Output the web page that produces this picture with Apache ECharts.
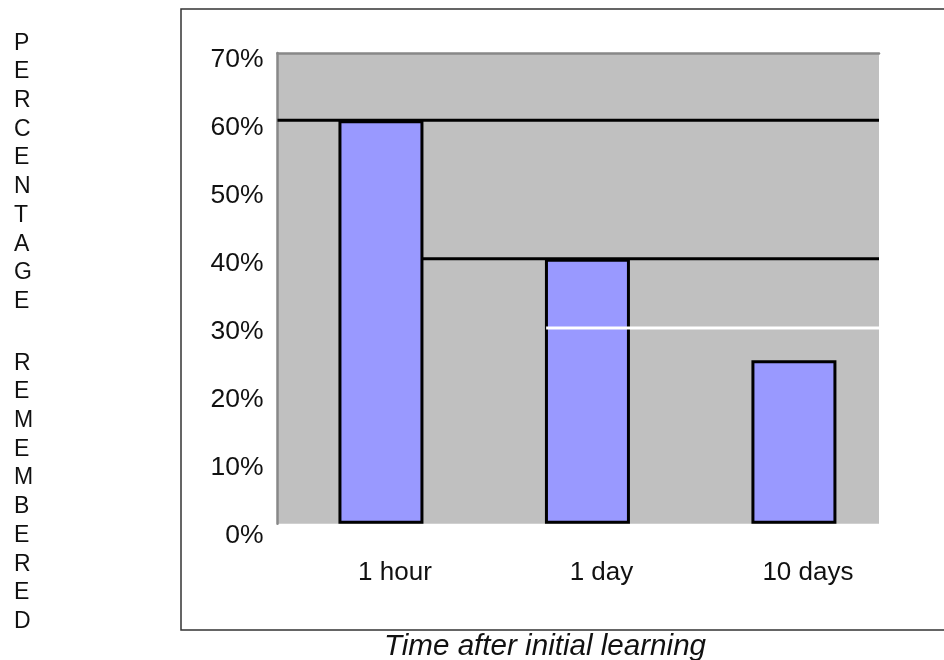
<!DOCTYPE html>
<html>
<head>
<meta charset="utf-8">
<script src="https://cdn.jsdelivr.net/npm/echarts@6/dist/echarts.min.js"></script>
<style>
html,body{margin:0;padding:0;background:#fff;}
#chart{width:944px;height:660px;}
</style>
</head>
<body>
<div id="chart"></div>
<script>
// ---- data ----
const categories = ['1 hour', '1 day', '10 days'];
const remembered = [60, 39.4, 24.3];
// reference levels drawn across the plot: level and start position (category units)
const refLevels = [60, 39.4, 29.1];
const refStarts = [-0.501, 0.2, 0.8];
const refColors = ['#000000', '#000000', '#ffffff'];
const yTicks = [0, 10, 20, 30, 40, 50, 60, 70];
const xMin = -0.501, xMax = 2.412;
const yTitle1 = 'PERCENTAGE';
const yTitle2 = 'REMEMBERED';
const xTitle = 'Time after initial learning';

const chart = echarts.init(document.getElementById('chart'), null, {renderer: 'canvas'});

const barData = remembered.map((v, i) => [i, v]);
const refSeries = refLevels.map((lv, i) => ({
  type: 'line',
  data: [[refStarts[i], lv], [xMax, lv]],
  symbol: 'none',
  silent: true,
  z: 5,
  lineStyle: {color: refColors[i], width: 3},
  clip: false
}));

const font = 'Liberation Sans, Arial, sans-serif';
const yMin = yTicks[0], yMax = yTicks[yTicks.length - 1];

chart.setOption({
  animation: false,
  backgroundColor: '#ffffff',
  grid: [{
    left: 277.5, right: 65, top: 53, bottom: 136.3,
    show: true, backgroundColor: '#C0C0C0', borderWidth: 0
  }, {
    // label-only grid: tick labels in the original sit on a slightly wider scale
    left: 277.5, right: 65, top: 59.5, bottom: 124, show: false
  }],
  xAxis: [{
    type: 'value', min: xMin, max: xMax, gridIndex: 0,
    axisLine: {show: false}, axisTick: {show: false}, splitLine: {show: false},
    axisLabel: {
      customValues: [0, 1, 2],
      formatter: v => categories[Math.round(v)],
      fontFamily: font, fontSize: 26, color: '#111', margin: 36,
      padding: [0, 0, 0, 28]
    }
  }, {
    type: 'value', position: 'top', min: xMin, max: xMax, gridIndex: 0,
    axisLine: {show: true, onZero: false, lineStyle: {color: '#888888', width: 2.5}},
    axisTick: {show: false}, splitLine: {show: false}, axisLabel: {show: false}
  }, {
    type: 'value', min: xMin, max: xMax, gridIndex: 1, show: false
  }],
  yAxis: [{
    type: 'value', min: yMin, max: yMax, interval: 10, gridIndex: 0,
    axisLine: {show: true, onZero: false, lineStyle: {color: '#888888', width: 2.5}},
    axisTick: {show: false}, splitLine: {show: false},
    axisLabel: {show: false}
  }, {
    type: 'value', min: yMin, max: yMax, interval: 10, gridIndex: 1,
    axisLine: {show: false}, axisTick: {show: false}, splitLine: {show: false},
    axisLabel: {
      formatter: '{value}%', fontFamily: font, fontSize: 26.5, color: '#111',
      margin: 14
    }
  }],
  series: [{
    type: 'bar',
    data: barData,
    barWidth: 85,
    z: 3,
    itemStyle: {color: '#9999FF', borderColor: '#000000', borderWidth: 3}
  }].concat(refSeries),
  graphic: [
    {type: 'rect', z: 100, silent: true,
     shape: {x: 279, y: 524.6, width: 610, height: 3},
     style: {fill: '#ffffff'}},
    {type: 'rect', z: 100, silent: true,
     shape: {x: 181, y: 9, width: 900, height: 621},
     style: {fill: 'none', stroke: '#333333', lineWidth: 1.5}},
    {type: 'text', z: 100, left: 14, top: 29,
     style: {text: yTitle1.split('').join('\n'), font: '23px ' + font, lineHeight: 28.7, fill: '#111', align: 'left'}},
    {type: 'text', z: 100, left: 14, top: 349,
     style: {text: yTitle2.split('').join('\n'), font: '23px ' + font, lineHeight: 28.7, fill: '#111', align: 'left'}},
    {type: 'text', z: 100, x: 545, y: 647,
     style: {text: xTitle, font: 'italic 29.6px ' + font, fill: '#111', align: 'center', verticalAlign: 'middle'}}
  ]
});
</script>
</body>
</html>
